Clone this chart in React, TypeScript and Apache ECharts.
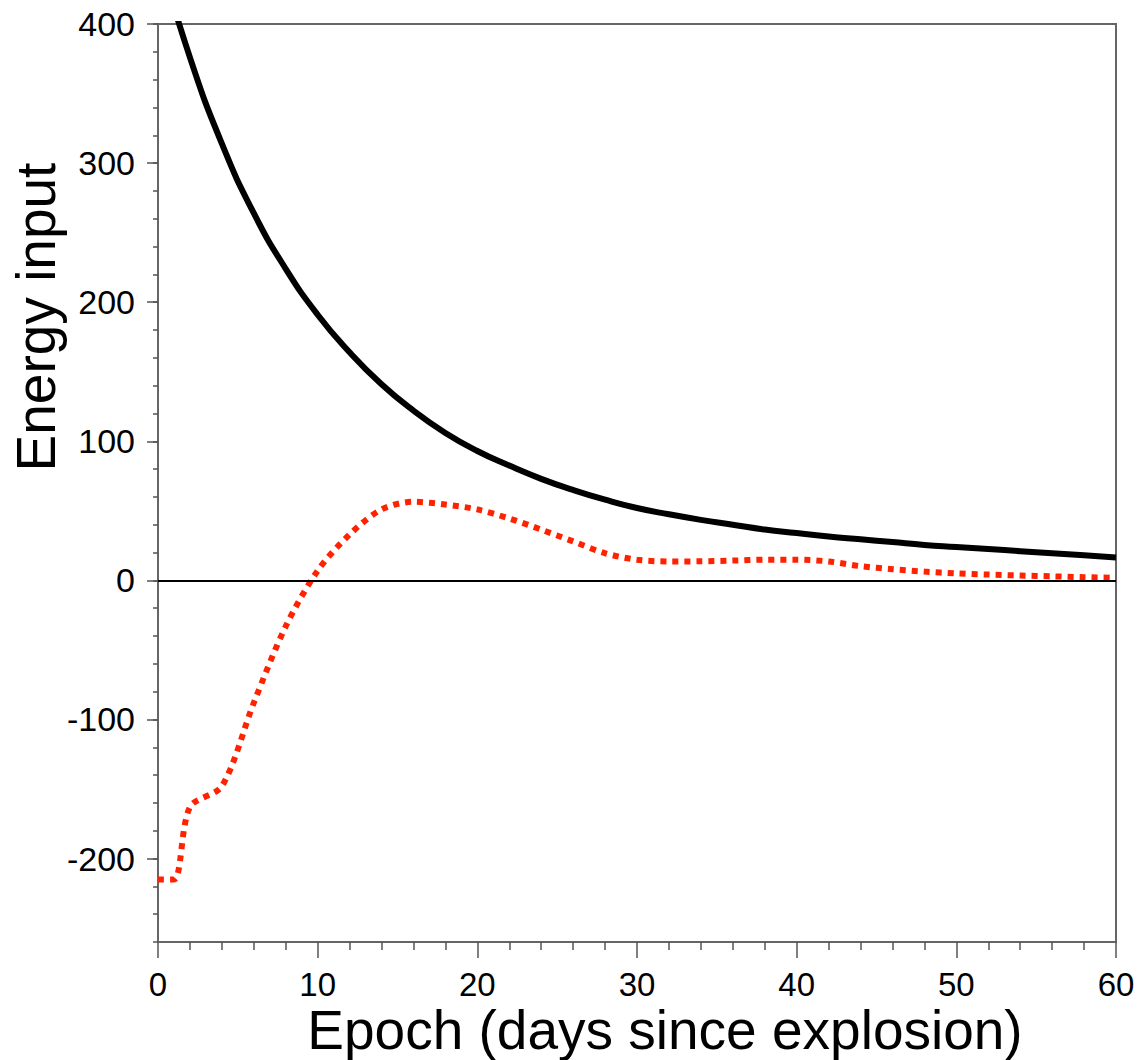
import React, { useEffect, useRef } from "react";
import * as echarts from "echarts";

const days: number[] = [0, 1, 2, 4, 6, 8, 10, 12, 14, 16, 18, 20, 22, 24, 26, 28, 30, 32, 34, 36, 38, 40, 42, 44, 46, 48, 50, 52, 54, 56, 58, 60];

const blackDays: number[] = [0, 2, 4, 6, 8, 10, 12, 14, 16, 18, 20, 22, 24, 26, 28, 30, 32, 34, 36, 38, 40, 42, 44, 46, 48, 50, 52, 54, 56, 58, 60];
const blackValues: number[] = [452, 376, 314, 264, 224, 191, 164, 141, 122, 106, 93, 82.5, 73, 65, 58, 52, 47.5, 43.5, 40, 36.5, 34, 31.5, 29.5, 27.5, 25.5, 24, 22.5, 21, 19.5, 18, 16.5];

const redValues: number[] = [-215, -215, -163, -148, -88, -33, 7, 33, 51, 56.5, 54.5, 51, 44.5, 36.5, 28, 19.5, 14.8, 13.6, 13.7, 14.2, 14.9, 14.9, 13.6, 10.2, 8, 6.3, 5, 4.2, 3.5, 2.9, 2.3, 1.8];

const yMajorTicks: number[] = [-200, -100, 0, 100, 200, 300, 400];

const xTitle = "Epoch (days since explosion)";
const yTitle = "Energy input";

const FONT = "'Liberation Sans', Arial, Helvetica, sans-serif";

export default function App() {
  const ref = useRef<HTMLDivElement>(null);

  useEffect(() => {
    document.body.style.margin = "0";
    if (!ref.current) return;
    const chart = echarts.init(ref.current, undefined, { renderer: "svg" });

    const blackData = blackDays.map((d, i) => [d, blackValues[i]]);
    const redData = days.map((d, i) => [d, redValues[i]]);

    const axisGray = "#666666";

    chart.setOption({
      animation: false,
      backgroundColor: "#ffffff",
      grid: {
        left: 158,
        top: 24,
        width: 958,
        height: 918,
        show: true,
        borderColor: axisGray,
        borderWidth: 2,
        backgroundColor: "transparent",
      },
      xAxis: {
        type: "value",
        min: 0,
        max: 60,
        interval: 10,
        axisLine: { show: true, onZero: false, lineStyle: { color: axisGray, width: 2 } },
        axisTick: { show: true, inside: false, length: 16, lineStyle: { color: "#555555", width: 1.5 } },
        minorTick: { show: true, splitNumber: 5, length: 8, lineStyle: { color: "#555555", width: 1.5 } },
        axisLabel: { fontSize: 33, lineHeight: 28, color: "#000000", fontFamily: FONT, margin: 28 },
        splitLine: { show: false },
        minorSplitLine: { show: false },
      },
      yAxis: [
        {
          type: "value",
          min: -260,
          max: 400,
          interval: 20,
          position: "left",
          axisLine: { show: true, onZero: false, lineStyle: { color: axisGray, width: 2 } },
          axisTick: { show: true, inside: false, length: 5, lineStyle: { color: "#555555", width: 1.5 } },
          axisLabel: {
            fontSize: 34,
            color: "#000000",
            fontFamily: FONT,
            margin: 23,
            formatter: (v: number) => (yMajorTicks.indexOf(v) >= 0 ? String(v) : ""),
          },
          splitLine: { show: false },
        },
        {
          type: "value",
          min: -260,
          max: 400,
          position: "left",
          axisLine: { show: false },
          axisTick: {
            show: true,
            inside: false,
            length: 11,
            customValues: yMajorTicks,
            lineStyle: { color: "#555555", width: 1.5 },
          },
          axisLabel: { show: false },
          splitLine: { show: false },
        },
      ],
      series: [
        {
          type: "line",
          data: blackData,
          yAxisIndex: 0,
          showSymbol: false,
          symbol: "none",
          smooth: 0.5,
          clip: true,
          lineStyle: { color: "#000000", width: 6 },
          z: 3,
          markLine: {
            silent: true,
            symbol: ["none", "none"],
            label: { show: false },
            lineStyle: { color: "#000000", width: 2, type: "solid" },
            data: [{ yAxis: 0 }],
          },
        },
        {
          type: "line",
          data: redData,
          yAxisIndex: 0,
          showSymbol: false,
          symbol: "none",
          smooth: 0.3,
          clip: true,
          lineStyle: { color: "#ff2200", width: 6, type: [6, 6], cap: "butt" },
          z: 4,
        },
      ],
      graphic: [
        {
          type: "text",
          x: 665,
          y: 1030,
          style: {
            text: xTitle,
            font: `55px ${FONT}`,
            lineHeight: 44,
            fill: "#000000",
            align: "center",
            verticalAlign: "middle",
            textAlign: "center",
            textVerticalAlign: "middle",
          },
        },
        {
          type: "text",
          x: 36,
          y: 317,
          rotation: Math.PI / 2,
          style: {
            text: yTitle,
            font: `55px ${FONT}`,
            fill: "#000000",
            align: "center",
            verticalAlign: "middle",
            textAlign: "center",
            textVerticalAlign: "middle",
          },
        },
      ],
    });

    return () => {
      chart.dispose();
    };
  }, []);

  return <div ref={ref} style={{ width: 1138, height: 1060 }} />;
}
